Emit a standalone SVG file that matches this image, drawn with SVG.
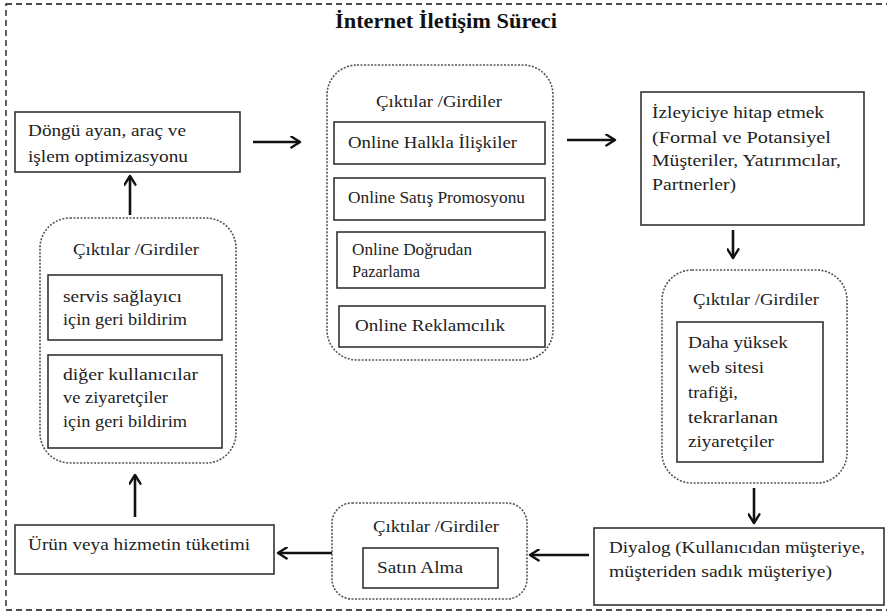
<svg xmlns="http://www.w3.org/2000/svg" width="887" height="614" viewBox="0 0 887 614">
<defs>
<style>
.t{font-family:"Liberation Serif","Times New Roman",serif;font-size:17px;fill:#222}
.c{text-anchor:middle}
.title{font-family:"Liberation Serif","Times New Roman",serif;font-size:20px;font-weight:bold;fill:#111;text-anchor:middle}
.box{fill:#fff;stroke:#333;stroke-width:1.6}
.grp{fill:#fff;stroke:#555;stroke-width:1.6;stroke-dasharray:2 1.5}
.frame{fill:none;stroke:#111;stroke-width:1.3;stroke-dasharray:6 4}
.arr{fill:none;stroke:#111;stroke-width:2.6;marker-end:url(#ah)}
</style>
<marker id="ah" viewBox="0 0 12 12" refX="10" refY="6" markerWidth="5" markerHeight="5" orient="auto" markerUnits="strokeWidth">
<path d="M2,1 L10,6 L2,11" fill="none" stroke="#111" stroke-width="2.2" stroke-linecap="round" stroke-linejoin="round"/>
</marker>
</defs>
<rect class="frame" x="6" y="4" width="900" height="606"/>
<text class="title" x="446" y="28" textLength="222" lengthAdjust="spacingAndGlyphs">İnternet İletişim Süreci</text>

<g id="connectors">
<line class="arr" x1="253" y1="142" x2="300" y2="142"/>
<line class="arr" x1="567" y1="140" x2="615" y2="140"/>
<line class="arr" x1="733" y1="230" x2="733" y2="258"/>
<line class="arr" x1="754" y1="488" x2="754" y2="523"/>
<line class="arr" x1="589" y1="555" x2="530" y2="555"/>
<line class="arr" x1="332" y1="553" x2="278" y2="553"/>
<line class="arr" x1="135" y1="517" x2="135" y2="475"/>
<line class="arr" x1="130" y1="215" x2="130" y2="176"/>
</g>

<g id="dongu">
<rect class="box" x="15" y="112" width="225" height="60"/>
<text class="t" x="28" y="136" textLength="158" lengthAdjust="spacingAndGlyphs">Döngü ayan, araç ve</text>
<text class="t" x="28" y="162" textLength="160" lengthAdjust="spacingAndGlyphs">işlem optimizasyonu</text>
</g>

<g id="geribildirim">
<rect class="grp" x="40" y="218" width="196" height="245" rx="30"/>
<text class="t c" x="136" y="255" textLength="126" lengthAdjust="spacingAndGlyphs">Çıktılar /Girdiler</text>
<rect class="box" x="48" y="275" width="174" height="65"/>
<text class="t" x="63" y="302" textLength="119" lengthAdjust="spacingAndGlyphs">servis sağlayıcı</text>
<text class="t" x="63" y="325" textLength="124" lengthAdjust="spacingAndGlyphs">için geri bildirim</text>
<rect class="box" x="48" y="355" width="174" height="93"/>
<text class="t" x="63" y="380" textLength="135" lengthAdjust="spacingAndGlyphs">diğer kullanıcılar</text>
<text class="t" x="63" y="403" textLength="105" lengthAdjust="spacingAndGlyphs">ve ziyaretçiler</text>
<text class="t" x="63" y="427" textLength="124" lengthAdjust="spacingAndGlyphs">için geri bildirim</text>
</g>

<g id="online">
<rect class="grp" x="327" y="65" width="226" height="295" rx="30"/>
<text class="t c" x="439" y="107" textLength="126" lengthAdjust="spacingAndGlyphs">Çıktılar /Girdiler</text>
<rect class="box" x="334" y="122" width="211" height="42"/>
<text class="t" x="348" y="148" textLength="169" lengthAdjust="spacingAndGlyphs">Online Halkla İlişkiler</text>
<rect class="box" x="334" y="178" width="211" height="42"/>
<text class="t" x="348" y="203" textLength="177" lengthAdjust="spacingAndGlyphs">Online Satış Promosyonu</text>
<rect class="box" x="337" y="232" width="208" height="56"/>
<text class="t" x="352" y="255" textLength="120" lengthAdjust="spacingAndGlyphs">Online Doğrudan</text>
<text class="t" x="352" y="277" textLength="68" lengthAdjust="spacingAndGlyphs">Pazarlama</text>
<rect class="box" x="339" y="306" width="206" height="41"/>
<text class="t" x="355" y="331" textLength="150" lengthAdjust="spacingAndGlyphs">Online Reklamcılık</text>
</g>

<g id="izleyici">
<rect class="box" x="641" y="92" width="223" height="133"/>
<text class="t" x="652" y="118" textLength="172" lengthAdjust="spacingAndGlyphs">İzleyiciye hitap etmek</text>
<text class="t" x="652" y="143" textLength="179" lengthAdjust="spacingAndGlyphs">(Formal ve Potansiyel</text>
<text class="t" x="652" y="166" textLength="189" lengthAdjust="spacingAndGlyphs">Müşteriler, Yatırımcılar,</text>
<text class="t" x="652" y="190" textLength="84" lengthAdjust="spacingAndGlyphs">Partnerler)</text>
</g>

<g id="trafik">
<rect class="grp" x="662" y="270" width="185" height="213" rx="30"/>
<text class="t c" x="756" y="305" textLength="126" lengthAdjust="spacingAndGlyphs">Çıktılar /Girdiler</text>
<rect class="box" x="677" y="322" width="146" height="140"/>
<text class="t" x="688" y="348" textLength="100" lengthAdjust="spacingAndGlyphs">Daha yüksek</text>
<text class="t" x="688" y="373" textLength="76" lengthAdjust="spacingAndGlyphs">web sitesi</text>
<text class="t" x="688" y="398" textLength="50" lengthAdjust="spacingAndGlyphs">trafiği,</text>
<text class="t" x="688" y="423" textLength="90" lengthAdjust="spacingAndGlyphs">tekrarlanan</text>
<text class="t" x="688" y="447" textLength="86" lengthAdjust="spacingAndGlyphs">ziyaretçiler</text>
</g>

<g id="diyalog">
<rect class="box" x="594" y="528" width="290" height="77"/>
<text class="t" x="609" y="553" textLength="256" lengthAdjust="spacingAndGlyphs">Diyalog (Kullanıcıdan müşteriye,</text>
<text class="t" x="609" y="577" textLength="223" lengthAdjust="spacingAndGlyphs">müşteriden sadık müşteriye)</text>
</g>

<g id="satinalma">
<rect class="grp" x="332" y="503" width="195" height="96" rx="20"/>
<text class="t c" x="436" y="532" textLength="126" lengthAdjust="spacingAndGlyphs">Çıktılar /Girdiler</text>
<rect class="box" x="363" y="548" width="135" height="40"/>
<text class="t" x="377" y="573" textLength="86" lengthAdjust="spacingAndGlyphs">Satın Alma</text>
</g>

<g id="urun">
<rect class="box" x="15" y="525" width="259" height="49"/>
<text class="t" x="28" y="550" textLength="222" lengthAdjust="spacingAndGlyphs">Ürün veya hizmetin tüketimi</text>
</g>
</svg>
